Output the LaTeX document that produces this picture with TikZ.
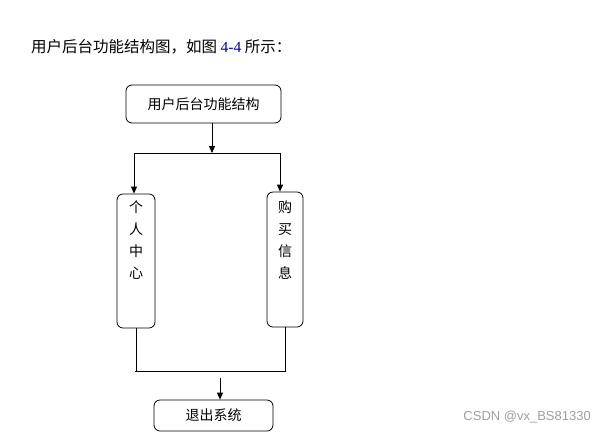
\documentclass[tikz,border=0pt]{standalone}
\usepackage{fontspec}
\setmainfont{Noto Sans CJK SC}
\newfontfamily\wmfont{Liberation Sans}
\newfontfamily\numfont{Liberation Serif}
\usetikzlibrary{arrows.meta}
\begin{document}
\begin{tikzpicture}[x=1pt,y=-1pt,
  box/.style={draw, rounded corners=6pt, line width=0.8pt, inner sep=0pt, font=\fontsize{14}{16}\selectfont},
  arr/.style={-{Triangle[length=7pt,width=6pt]}, line width=0.8pt},
  ln/.style={line width=0.8pt},
  vtext/.style={align=center, inner sep=0pt, font=\fontsize{14}{22}\selectfont}]
\useasboundingbox (0,0) rectangle (604,440);
\node[anchor=west, inner sep=0pt, font=\fontsize{15.5}{17}\selectfont] (title) at (31,47)
  {用户后台功能结构图，如图 {\numfont\color{blue!65!black}4-4} 所示：};
\node[box, minimum width=155pt, minimum height=38pt] (top) at (203.5,104) {用户后台功能结构};
\node[box, minimum width=38pt, minimum height=134pt] (L) at (136,261) {};
\node[vtext] (Lt) at (136,240) {个\\人\\中\\心};
\node[box, minimum width=36pt, minimum height=135pt] (R) at (285,259.5) {};
\node[vtext] (Rt) at (285,240) {购\\买\\信\\息};
\node[box, minimum width=119pt, minimum height=31pt] (B) at (213.5,415.5) {退出系统};
\coordinate (j) at (212,153);
\coordinate (hl) at (134,153);
\coordinate (hr) at (280,153);
\draw[arr] (top.south -| j) -- (j);
\draw[ln] (hl) -- (hr);
\draw[arr] (hl) -- (hl |- L.north);
\draw[arr] (hr) -- (hr |- R.north);
\coordinate (bl) at (136,371);
\coordinate (br) at (285,371);
\draw[ln] (L.south) -- (bl);
\draw[ln] (R.south) -- (br);
\draw[ln] ([xshift=-1pt]bl) -- ([xshift=1pt]br);
\coordinate (a) at (220,378);
\draw[arr] (a) -- (a |- B.north);
\node[anchor=east, inner sep=0pt, text=gray!75, font=\wmfont\fontsize{13}{15}\selectfont] (wm) at (591,417) {CSDN @vx\_BS81330};
\end{tikzpicture}
\end{document}
